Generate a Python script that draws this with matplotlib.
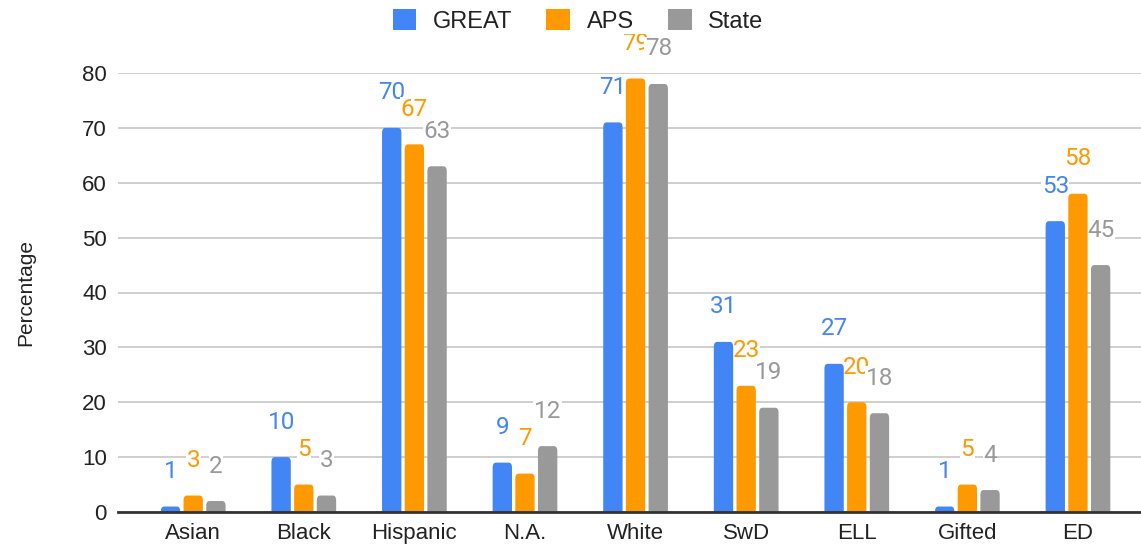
import numpy as np
import matplotlib
matplotlib.use("Agg")
import matplotlib.pyplot as plt
from matplotlib.patches import FancyBboxPatch, Patch

# donnees
categories = ["Asian", "Black", "Hispanic", "N.A.", "White", "SwD", "ELL", "Gifted", "ED"]
great = [1, 10, 70, 9, 71, 31, 27, 1, 53]
aps = [3, 5, 67, 7, 79, 23, 20, 5, 58]
state = [2, 3, 63, 12, 78, 19, 18, 4, 45]
series_names = ["GREAT", "APS", "State"]
colors = ["#4285F4", "#FF9900", "#999999"]
yticks = [0, 10, 20, 30, 40, 50, 60, 70, 80]

plt.rcParams["font.family"] = ["Liberation Sans", "DejaVu Sans"]

fig = plt.figure(figsize=(11.41, 5.48), dpi=100)
ax = fig.add_axes([118 / 1141, 36 / 548, 1 - 118 / 1141, 439 / 548])

x = np.arange(len(categories))
width = 0.175
offsets = [-0.205, 0.0, 0.205]

for vals, name, col, off in zip([great, aps, state], series_names, colors, offsets):
    bars = ax.bar(x + off, vals, width, color=col, label=name, zorder=3)
    for b, v in zip(bars, vals):
        # barres a coins arrondis (le bas est cache sous l'axe)
        b.set_visible(False)
        r = 0.9
        patch = FancyBboxPatch((b.get_x(), -r), b.get_width(), v + r,
                               boxstyle="round,pad=0,rounding_size=0.03",
                               mutation_aspect=r / 0.03,
                               facecolor=col, edgecolor="none", zorder=3)
        ax.add_patch(patch)
        # etiquette derriere les barres, avec un fond blanc sur la grille
        ax.annotate(str(v), (b.get_x() + b.get_width() / 2, v),
                    xytext=(0, 35), textcoords="offset pixels",
                    ha="center", va="center", fontsize=17.5, color=col,
                    family=["Roboto", "DejaVu Sans"],
                    annotation_clip=False, zorder=2,
                    bbox=dict(boxstyle="square,pad=0.02", fc="white", ec="none"))

ax.set_xlim(-0.68, 8.57)
ax.set_ylim(0, 80)
ax.set_yticks(yticks)
ax.set_xticks(x)
ax.set_xticklabels(categories)
ax.tick_params(axis="both", length=0, labelsize=16, colors="#222222", pad=10)
ax.tick_params(axis="y", pad=8)
ax.tick_params(axis="x", pad=8)
ax.grid(axis="y", color="#CCCCCC", linewidth=1.3, zorder=0)
for s in ["top", "right", "left"]:
    ax.spines[s].set_visible(False)
ax.spines["bottom"].set_color("#333333")
ax.spines["bottom"].set_linewidth(2)
ax.spines["bottom"].set_zorder(5)
ax.set_ylabel("Percentage", fontsize=15, color="#222222", labelpad=34)

handles = [Patch(facecolor=c, edgecolor="none") for c in colors]
leg = fig.legend(handles, series_names, loc="center", bbox_to_anchor=(578 / 1141, 1 - 21 / 548),
                 ncol=3, frameon=True, fontsize=17, handlelength=1.0, handleheight=1.0,
                 handletextpad=0.7, columnspacing=1.45, borderpad=0.05)
leg.get_frame().set_facecolor("white")
leg.get_frame().set_edgecolor("none")
leg.get_frame().set_alpha(1)
leg.set_zorder(10)
for t in leg.get_texts():
    t.set_color("#222222")

fig.savefig("out.png", dpi=100, facecolor="white")
